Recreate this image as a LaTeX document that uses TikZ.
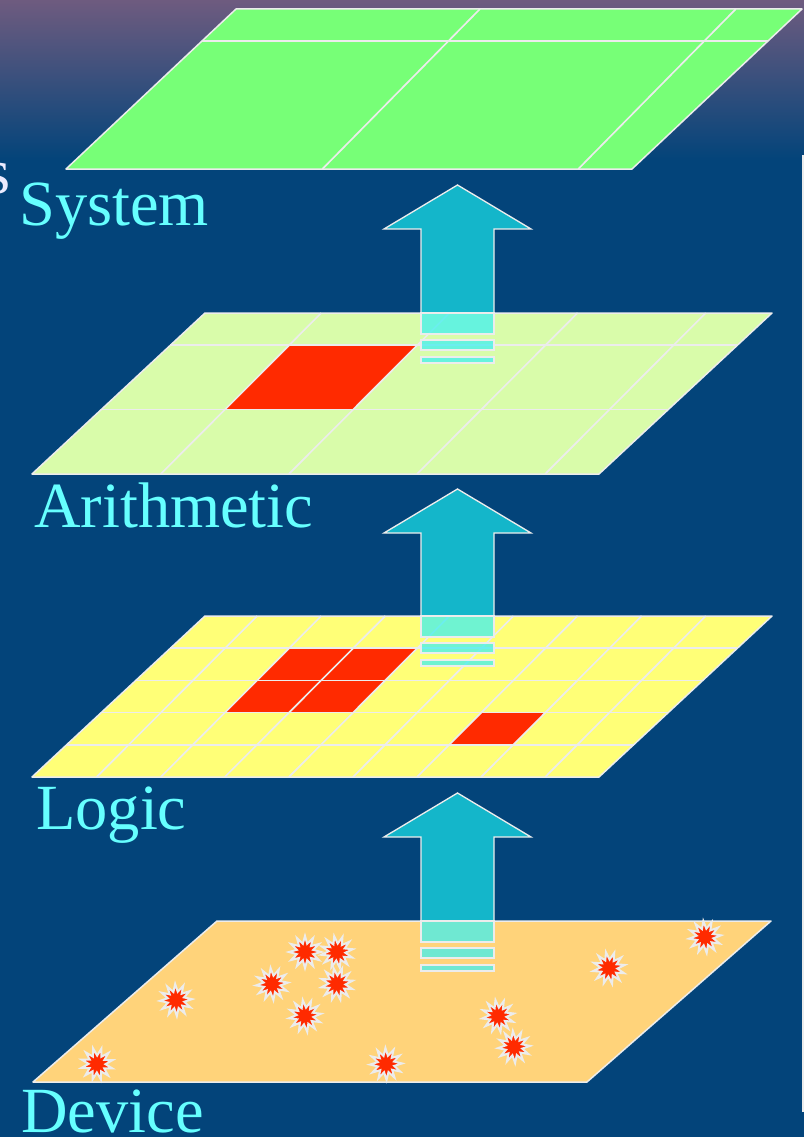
\documentclass[tikz,border=0pt]{standalone}
\usepackage{fontspec}
\setmainfont{Liberation Serif}
\usetikzlibrary{shapes.geometric}
\definecolor{bgblue}{RGB}{3,68,122}
\definecolor{bgtop}{RGB}{110,91,127}
\definecolor{sysgreen}{RGB}{119,255,119}
\definecolor{arithgreen}{RGB}{217,252,170}
\definecolor{logicyellow}{RGB}{255,255,119}
\definecolor{devorange}{RGB}{255,211,122}
\definecolor{cellred}{RGB}{255,42,0}
\definecolor{gridgray}{RGB}{236,236,236}
\definecolor{labelcyan}{RGB}{102,255,255}
\definecolor{arrowcyan}{RGB}{20,182,202}
\definecolor{arrowfade}{RGB}{64,240,240}
\tikzset{
  plane/.style  ={draw=gridgray, line width=0.45mm, line join=round},
  gridln/.style ={draw=gridgray, line width=0.5mm},
  lbl/.style    ={anchor=base west, inner sep=0pt, text=labelcyan,
                  font=\fontsize{55}{62}\selectfont},
  uparrow/.style={fill=arrowcyan, draw=gridgray, line width=0.4mm},
  fade/.style   ={fill=arrowfade, fill opacity=0.75, draw=gridgray, line width=0.4mm},
  spark/.style  ={star, star points=12, star point ratio=1.9, minimum size=9.6mm,
                  inner sep=0pt, fill=cellred, draw=gridgray, line width=0.6mm}
}
% slanted grid line, given by its mid value u
\newcommand{\colline}[1]{\draw[gridln] ({#1-0.011},0) -- ({#1+0.011},1);}
\newcommand{\rowline}[1]{\draw[gridln] (0,#1) -- (1,#1);}
% red cell between columns #1,#2 and rows #3,#4
\newcommand{\redcell}[4]{%
  \fill[cellred] ({#1-0.011+0.022*#3},#3) -- ({#2-0.011+0.022*#3},#3)
    -- ({#2-0.011+0.022*#4},#4) -- ({#1-0.011+0.022*#4},#4) -- cycle;}
% block arrow: #1 tip, #2 top of the plane below
\newcommand{\levelarrow}[2]{%
  \draw[uparrow] (421,#2) -- (421,#1+44) -- (384,#1+44) -- (457.5,#1)
    -- (531,#1+44) -- (494,#1+44) -- (494,#2);
  \draw[fade] (421,#2) rectangle (494,#2+21);
  \draw[fade] (421,#2+27) rectangle (494,#2+37);
  \draw[fade] (421,#2+44) rectangle (494,#2+50);}

\begin{document}
\begin{tikzpicture}[x=0.3mm, y=-0.3mm]
  \useasboundingbox (0,0) rectangle (804,1137);
  \clip (0,0) rectangle (804,1137);
  \fill[bgblue] (0,0) rectangle (804,1137);
  \shade[top color=bgtop, bottom color=bgblue] (0,0) rectangle (804,160);
  \draw[gridgray, line width=0.5mm] (803,155) -- (803,1112);

  % System
  \begin{scope}[shift={(236,9)}, y={(-170,160)}, x={(566,0)}]
    \draw[plane, fill=sysgreen] (0,0) -- (1,0) -- (1,1) -- (0,1) -- cycle;
    \foreach \k in {4,8}{\pgfmathsetmacro\um{0.113*\k-0.01}\colline{\um}}
    \rowline{0.2}
  \end{scope}

  % Arithmetic
  \begin{scope}[shift={(205,313)}, y={(-173,161)}, x={(567,0)}]
    \draw[plane, fill=arithgreen] (0,0) -- (1,0) -- (1,1) -- (0,1) -- cycle;
    \redcell{0.216}{0.442}{0.2}{0.6}
    \foreach \k in {2,4,6,8}{\pgfmathsetmacro\um{0.113*\k-0.01}\colline{\um}}
    \foreach \v in {0.2,0.6}{\rowline{\v}}
  \end{scope}

  % Logic
  \begin{scope}[shift={(205,616)}, y={(-173,161)}, x={(567,0)}]
    \draw[plane, fill=logicyellow] (0,0) -- (1,0) -- (1,1) -- (0,1) -- cycle;
    \redcell{0.216}{0.442}{0.2}{0.6}
    \redcell{0.668}{0.781}{0.6}{0.8}
    \foreach \k in {1,...,8}{\pgfmathsetmacro\um{0.113*\k-0.01}\colline{\um}}
    \foreach \v in {0.2,0.4,0.6,0.8}{\rowline{\v}}
  \end{scope}

  % Device
  \begin{scope}[shift={(217,921)}, y={(-184,161)}, x={(554,0)}]
    \draw[plane, fill=devorange] (0,0) -- (1,0) -- (1,1) -- (0,1) -- cycle;
  \end{scope}

  \levelarrow{185}{313}
  \levelarrow{489}{616}
  \levelarrow{793}{921}

  \foreach \x/\y/\r [count=\i] in {305/952/0, 337/952/10, 272/984/5, 337/984/12,
      176/1000/3, 305/1016/8, 97/1064/14, 386/1064/2, 498/1016/9, 514/1047/4,
      609/968/11, 705/937/6}
    \node[spark, rotate=\r] (spark\i) at (\x,\y) {};

  \node[lbl, text=white!92!blue] (cut) at (-15,193) {s};
  \node[lbl] (system) at (19,225) {System};
  \node[lbl] (arith)  at (34,527) {Arithmetic};
  \node[lbl] (logic)  at (36,829) {Logic};
  \node[lbl] (device) at (21,1132) {Device};
\end{tikzpicture}
\end{document}
